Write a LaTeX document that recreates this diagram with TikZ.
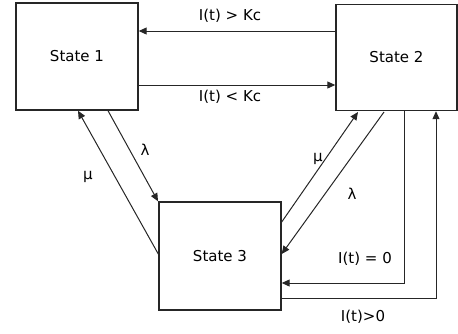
\documentclass[tikz,border=0pt]{standalone}
\usepackage{fontspec}
\setmainfont{DejaVu Sans}
\usetikzlibrary{arrows.meta}
\begin{document}
\begin{tikzpicture}[x=1pt,y=-1pt,
  statebox/.style={draw=black!85,line width=1.4pt,rectangle,inner sep=0pt,font=\fontsize{15}{17}\selectfont},
  arr/.style={draw=black!85,line width=1pt,-{Triangle[length=8pt,width=7pt]}},
  lbl/.style={font=\fontsize{15}{17}\selectfont,inner sep=0pt}]
\useasboundingbox (0,0) rectangle (458,333);
\node[statebox,minimum width=122pt,minimum height=107pt] (s1) at (77,56.5) {State 1};
\node[statebox,minimum width=121pt,minimum height=106pt] (s2) at (396.5,57.5) {State 2};
\node[statebox,minimum width=122pt,minimum height=108pt] (s3) at (220,256) {State 3};
% horizontal
\draw[arr] (s2.west |- 0,31) -- (s1.east |- 0,31);
\draw[arr] (s1.east |- 0,85) -- (s2.west |- 0,85);
\node[lbl] (l1) at (230,16) {I(t) > Kc};
\node[lbl] (l2) at (230,97) {I(t) < Kc};
% state1 - state3
\draw[arr] (s3.west |- 0,254) -- (s1.south -| 78,0);
\draw[arr] (s1.south -| 108,0) -- (s3.north -| 158,0);
\node[lbl] (mu1) at (88,177) {μ};
\node[lbl] (la1) at (145,150) {λ};
% state3 - state2
\draw[arr] (s3.east |- 0,222) -- (358,112) coordinate (t1);
\draw[arr] (384,112) coordinate (t2) -- (s3.east |- 0,254);
\node[lbl] (mu2) at (318,159) {μ};
\node[lbl] (la2) at (352,194) {λ};
% I(t)=0 and I(t)>0
\draw[arr] (s2.south -| 404,0) -- (404,283) -- (s3.east |- 0,283);
\draw[arr] (s3.east |- 0,298) -- (436,298) -- (s2.south -| 436,0);
\node[lbl] (l3) at (365,259) {I(t) = 0};
\node[lbl] (l4) at (363,317) {I(t)>0};
\end{tikzpicture}
\end{document}
